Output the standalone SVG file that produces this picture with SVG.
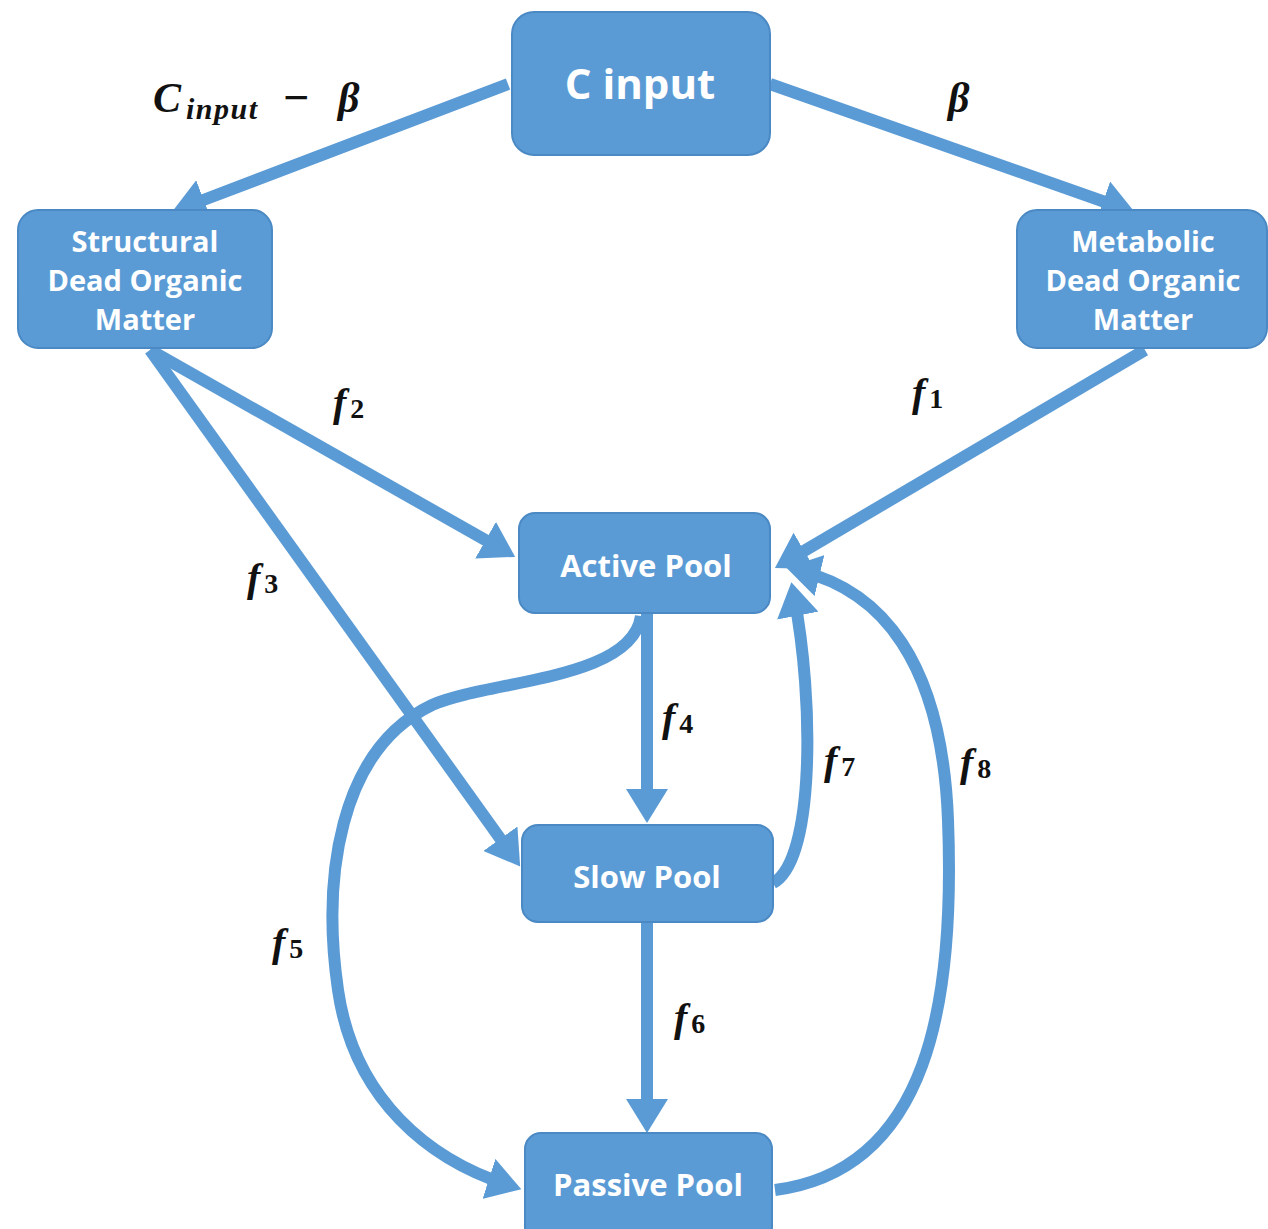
<svg xmlns="http://www.w3.org/2000/svg" width="1268" height="1229" viewBox="0 0 1268 1229">
<style>
.node{fill:#5b9bd5;stroke:#4a89c4;stroke-width:2}
.nt{fill:#fff;font-family:"Open Sans","DejaVu Sans",sans-serif;font-weight:700;text-anchor:middle}
.e{fill:none;stroke:#5b9bd5;stroke-width:12}
.lb{font-family:"Liberation Serif","DejaVu Serif",serif;font-style:italic;font-weight:700;fill:#111}
.sub{font-size:28px;font-style:normal}
</style>
<defs>
<marker id="ah" markerUnits="userSpaceOnUse" markerWidth="36" markerHeight="42" refX="20" refY="21" orient="auto">
<path d="M0,0 L34,21 L0,42 z" fill="#5b9bd5"/>
</marker>
</defs>
<rect width="1268" height="1229" fill="#fff"/>
<g id="connectors">
<path class="e" d="M508 84 L185 207" marker-end="url(#ah)"/>
<path class="e" d="M770 84 L1122 208" marker-end="url(#ah)"/>
<path class="e" d="M1145 350 L787 561" marker-end="url(#ah)"/>
<path class="e" d="M150 350 L503 550" marker-end="url(#ah)"/>
<path class="e" d="M150 350 L512 855" marker-end="url(#ah)"/>
<path class="e" d="M647 613 L647 809" marker-end="url(#ah)"/>
<path class="e" d="M647 922 L647 1119" marker-end="url(#ah)"/>
<path class="e" d="M641 616 C632 680 490 680 432 705 C338 750 322 880 338 990 C354 1100 430 1160 508 1185" marker-end="url(#ah)"/>
<path class="e" d="M773 883 C815 860 814 700 794 596" marker-end="url(#ah)"/>
<path class="e" d="M775 1190 C930 1170 955 1000 948 820 C942 660 880 590 800 571" marker-end="url(#ah)"/>
</g>
<g id="n-cinput"><rect class="node" x="512" y="12" width="258" height="143" rx="22"/><text class="nt" x="640" y="99" font-size="42" font-weight="600">C input</text></g>
<g id="n-structural"><rect class="node" x="18" y="210" width="254" height="138" rx="20"/>
<text class="nt" font-size="29"><tspan x="145" y="252">Structural</tspan><tspan x="145" y="291">Dead Organic</tspan><tspan x="145" y="330">Matter</tspan></text></g>
<g id="n-metabolic"><rect class="node" x="1017" y="210" width="250" height="138" rx="20"/>
<text class="nt" font-size="29"><tspan x="1143" y="252">Metabolic</tspan><tspan x="1143" y="291">Dead Organic</tspan><tspan x="1143" y="330">Matter</tspan></text></g>
<g id="n-active"><rect class="node" x="519" y="513" width="251" height="100" rx="16"/><text class="nt" x="646" y="577" font-size="31">Active Pool</text></g>
<g id="n-slow"><rect class="node" x="522" y="825" width="251" height="97" rx="16"/><text class="nt" x="647" y="888" font-size="31">Slow Pool</text></g>
<g id="n-passive"><rect class="node" x="525" y="1133" width="247" height="110" rx="16"/><text class="nt" x="648" y="1196" font-size="31">Passive Pool</text></g>
<g id="labels">
<text class="lb" font-size="42"><tspan x="153" y="112">C</tspan><tspan x="186" y="119" font-size="30" letter-spacing="1.5">input</tspan><tspan x="283" y="113" font-style="normal" font-weight="700" font-size="46">−</tspan><tspan x="338" y="112">β</tspan></text>
<text class="lb" x="948" y="112" font-size="42">β</text>
<text class="lb" x="333" y="416" font-size="40">f<tspan class="sub" dx="4" dy="2">2</tspan></text>
<text class="lb" x="912" y="406" font-size="40">f<tspan class="sub" dx="4" dy="2">1</tspan></text>
<text class="lb" x="247" y="591" font-size="40">f<tspan class="sub" dx="4" dy="2">3</tspan></text>
<text class="lb" x="662" y="731" font-size="40">f<tspan class="sub" dx="4" dy="2">4</tspan></text>
<text class="lb" x="824" y="774" font-size="40">f<tspan class="sub" dx="4" dy="2">7</tspan></text>
<text class="lb" x="960" y="776" font-size="40">f<tspan class="sub" dx="4" dy="2">8</tspan></text>
<text class="lb" x="272" y="956" font-size="40">f<tspan class="sub" dx="4" dy="2">5</tspan></text>
<text class="lb" x="674" y="1031" font-size="40">f<tspan class="sub" dx="4" dy="2">6</tspan></text>
</g>
</svg>
